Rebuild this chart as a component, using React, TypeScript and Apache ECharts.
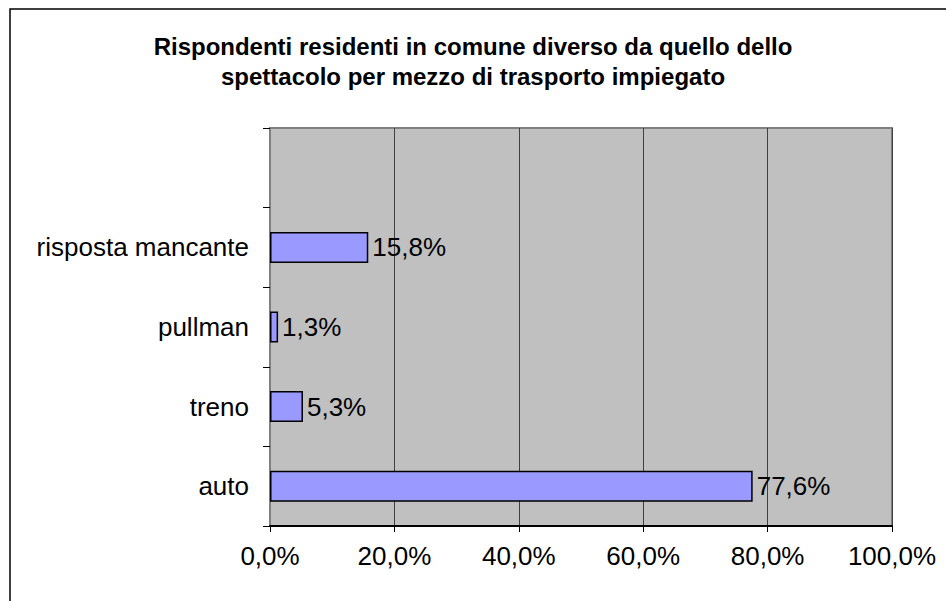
import React, { useEffect, useRef } from "react";
import * as echarts from "echarts";

const categories = ["auto", "treno", "pullman", "risposta mancante", ""];
const values = [77.6, 5.3, 1.3, 15.8, null];
const xTicks = [0, 20, 40, 60, 80, 100];

const fmt = (v: number) => v.toFixed(1).replace(".", ",") + "%";
const FONT = "Liberation Sans, Arial, sans-serif";

export default function App() {
  const ref = useRef<HTMLDivElement>(null);
  useEffect(() => {
    const chart = echarts.init(ref.current!, null, { renderer: "svg" });
    chart.setOption({
      animation: false,
      backgroundColor: "#ffffff",
      textStyle: { fontFamily: FONT },
      title: {
        text: "Rispondenti residenti in comune diverso da quello dello\nspettacolo per mezzo di trasporto impiegato",
        left: "center",
        top: 26,
        textStyle: {
          fontFamily: FONT,
          fontWeight: "bold",
          fontSize: 24,
          lineHeight: 30,
          color: "#000",
        },
      },
      graphic: [
        {
          type: "rect",
          shape: { x: 10, y: 9, width: 960, height: 620 },
          style: { fill: "none", stroke: "#000", lineWidth: 1.5 },
          silent: true,
        },
      ],
      grid: {
        left: 270,
        right: 54,
        top: 128,
        bottom: 75,
        show: true,
        backgroundColor: "#C0C0C0",
        borderColor: "#808080",
        borderWidth: 2,
      },
      xAxis: {
        type: "value",
        min: xTicks[0],
        max: xTicks[xTicks.length - 1],
        interval: 20,
        axisLine: { show: true, lineStyle: { color: "#000", width: 2 } },
        axisTick: { show: true, length: 6, lineStyle: { color: "#000" } },
        axisLabel: {
          formatter: (v: number) => fmt(v),
          fontSize: 26,
          color: "#000",
          margin: 17,
          fontFamily: FONT,
        },
        splitLine: { show: true, lineStyle: { color: "#404040", width: 1 } },
      },
      yAxis: {
        type: "category",
        data: categories,
        axisLine: { show: true, lineStyle: { color: "#808080", width: 2 } },
        axisTick: { show: true, length: 7, lineStyle: { color: "#000" } },
        axisLabel: {
          fontSize: 26,
          color: "#000",
          margin: 21,
          fontFamily: FONT,
        },
        splitLine: { show: false },
      },
      series: [
        {
          type: "bar",
          data: values,
          barCategoryGap: "61%",
          itemStyle: { color: "#9999FF", borderColor: "#000", borderWidth: 1.5 },
          label: {
            show: true,
            position: "right",
            distance: 4,
            formatter: (p: any) => fmt(p.value),
            fontSize: 26,
            color: "#000",
            fontFamily: FONT,
          },
        },
      ],
    });
    return () => chart.dispose();
  }, []);
  return (
    <div
      ref={ref}
      style={{ position: "fixed", left: 0, top: 0, width: 946, height: 601 }}
    />
  );
}
